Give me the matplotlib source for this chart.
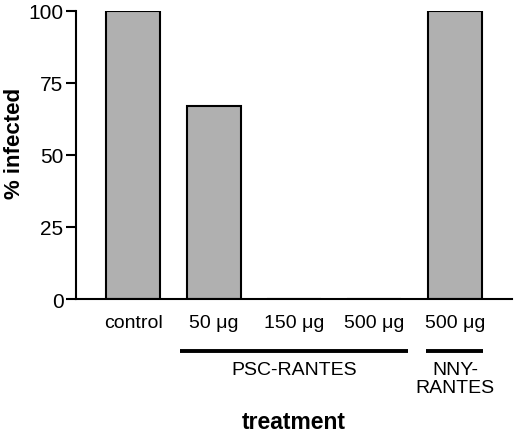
import matplotlib
matplotlib.use("Agg")
import matplotlib.pyplot as plt
import matplotlib.transforms as mtransforms

plt.rcParams['font.family'] = ['Liberation Sans', 'DejaVu Sans']

# data
labels = ['control', '50 \u03bcg', '150 \u03bcg', '500 \u03bcg', '500 \u03bcg']
infected = [100, 67, 0, 0, 100]
groups = ['PSC-RANTES', 'NNY-\nRANTES']
group_bars = [(1, 3), (4, 4)]
yticks = [0, 25, 50, 75, 100]

fig = plt.figure(figsize=(5.16, 4.35), dpi=100)
ax = fig.add_axes([76 / 516, 1 - 300 / 435, 436 / 516, 288 / 435])

x = list(range(len(labels)))
ax.bar(x, infected, width=0.67, color='#b0b0b0', edgecolor='black', linewidth=1.5)

ax.set_xlim(-0.71, 4.71)
ax.set_ylim(0, 100)
ax.set_yticks(yticks)
ax.set_xticks(x)
ax.set_xticklabels(labels, fontsize=14)
ax.tick_params(axis='x', length=0, pad=11)
ax.tick_params(axis='y', length=7, width=1.5, labelsize=15, pad=2)

for s in ['top', 'right']:
    ax.spines[s].set_visible(False)
for s in ['left', 'bottom']:
    ax.spines[s].set_linewidth(1.5)

# y label placed in figure coords so it stays inside the canvas
fig.text(15 / 516, 1 - 143 / 435, '% infected', rotation=90, ha='center', va='center',
         fontsize=16, fontweight='bold')

# group brackets under the tick labels
trans = mtransforms.blended_transform_factory(ax.transData, ax.transAxes)
pads = [0.42, 0.355]
for (a, b), name, p in zip(group_bars, groups, pads):
    ax.plot([a - p, b + p], [-0.181, -0.181], color='black', linewidth=2.8,
            transform=trans, clip_on=False, solid_capstyle='butt')
    ax.text((a + b) / 2, -0.215, name, transform=trans, ha='center', va='top',
            fontsize=14, linespacing=1.05)

fig.text(294 / 516, 1 - 423 / 435, 'treatment', ha='center', va='center',
         fontsize=16.5, fontweight='bold')

fig.savefig('out.png', dpi=100)
